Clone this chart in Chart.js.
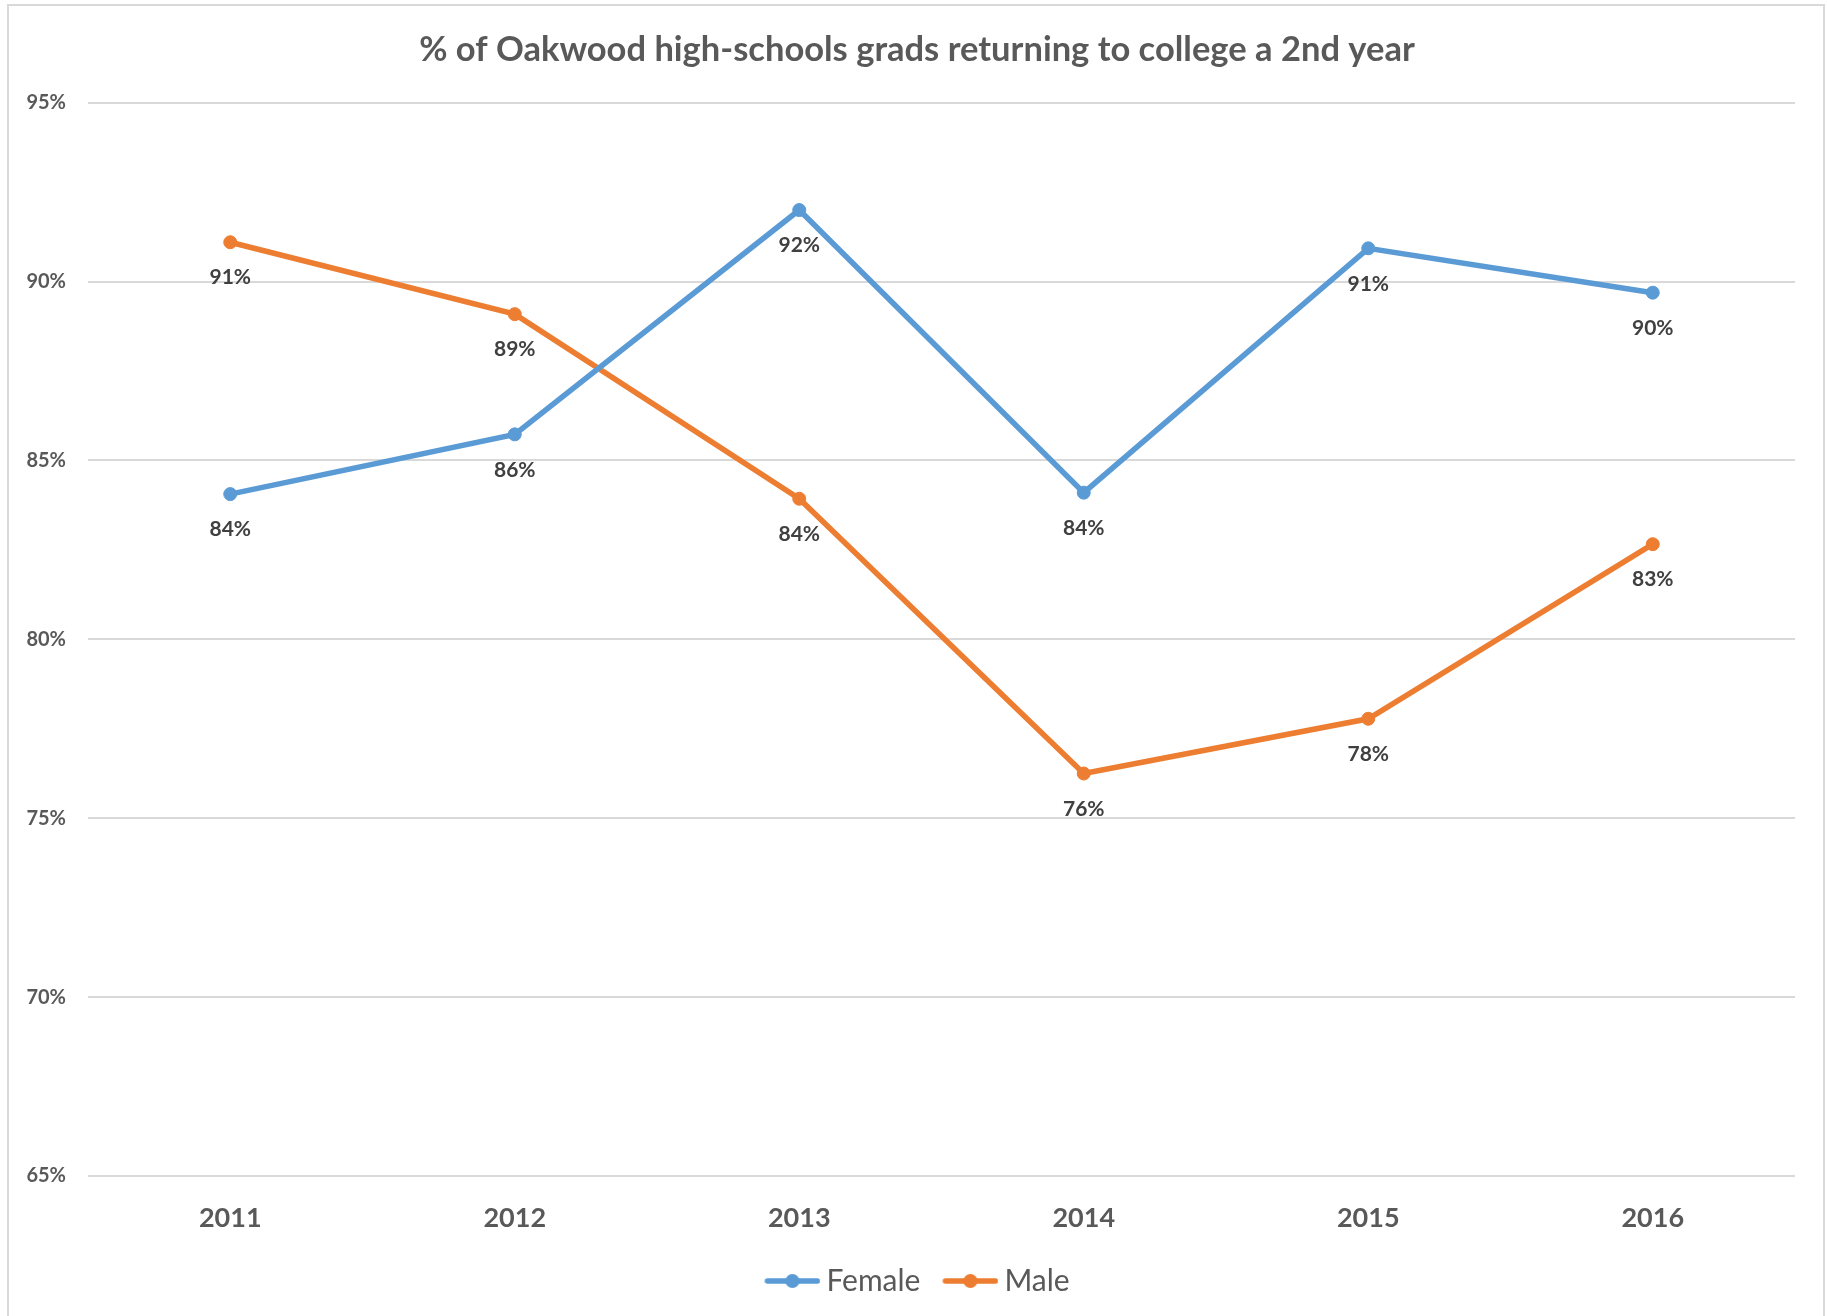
<!DOCTYPE html>
<html>
<head>
<meta charset="utf-8">
<script src="https://cdn.jsdelivr.net/npm/chart.js@4.4.0/dist/chart.umd.min.js"></script>
<style>
  html, body { margin: 0; padding: 0; background: #fff; overflow: hidden; }
  #frame { position: absolute; left: 7px; top: 4px; width: 1818px; height: 1400px; border: 2px solid #d9d9d9; box-sizing: border-box; }
  #wrap { position: absolute; left: 0; top: 0; width: 1827px; height: 1316px; }
</style>
</head>
<body>
<div id="frame"></div>
<div id="wrap"><canvas id="chart"></canvas></div>
<script>
const years = ['2011', '2012', '2013', '2014', '2015', '2016'];
const femaleValues = [84.06, 85.73, 92.0, 84.1, 90.93, 89.69];
const maleValues = [91.1, 89.09, 83.93, 76.25, 77.78, 82.66];
const yMin = 65;
const yMax = 95;
const yStep = 5;

const blue = '#5b9bd5';
const orange = '#ed7d31';
const fontName = 'Lato, "Open Sans", sans-serif';


// legend marker: a short line with a dot, drawn to the right side of a wider image
function legendMarker(color){
    const c = document.createElement('canvas');
    c.width = 65;
    c.height = 16;
    const g = c.getContext('2d');
    g.strokeStyle = color;
    g.lineWidth = 5.5;
    g.lineCap = 'round';
    g.beginPath();
    g.moveTo(12, 8);
    g.lineTo(62, 8);
    g.stroke();
    g.fillStyle = color;
    g.beginPath();
    g.arc(37, 8, 7, 0, Math.PI * 2);
    g.fill();
    return c;
}


// value labels under every point
const pointLabels = {
    id: 'pointLabels',
    afterDatasetsDraw(chart){
        const ctx = chart.ctx;
        ctx.save();
        ctx.font = 'bold 21px ' + fontName;
        ctx.fillStyle = '#404040';
        ctx.textAlign = 'center';
        ctx.textBaseline = 'middle';
        chart.data.datasets.forEach((ds, i) => {
            chart.getDatasetMeta(i).data.forEach((pt, j) => {
                ctx.fillText(Math.round(ds.data[j]) + '%', pt.x, pt.y + 35.5);
            });
        });
        ctx.restore();
    }
};


const ctx = document.getElementById('chart');

new Chart(ctx, {
    type: 'line',
    data: {
        labels: years,
        datasets: [{
            label: 'Female',
            data: femaleValues,
            yAxisID: 'y',
            borderColor: blue,
            backgroundColor: blue,
            borderWidth: 5.5,
            pointRadius: 6.5,
            pointBorderWidth: 1,
            tension: 0,
            fill: false
        }, {
            label: 'Male',
            data: maleValues,
            yAxisID: 'y',
            borderColor: orange,
            backgroundColor: orange,
            borderWidth: 5.5,
            pointRadius: 6.5,
            pointBorderWidth: 1,
            tension: 0,
            fill: false
        }]
    },
    options: {
        responsive: true,
        maintainAspectRatio: false,
        animation: false,
        devicePixelRatio: 1,
        layout: {
            padding: { left: 20, right: 13, top: 0, bottom: 10 }
        },
        scales: {
            x: {
                offset: true,
                grid: { display: false },
                border: { display: false },
                ticks: {
                    color: '#595959',
                    padding: 18,
                    font: { family: fontName, size: 27, weight: 'bold' }
                },
                afterFit(scale){ scale.height = 68; }
            },
            y: {
                min: yMin,
                max: yMax,
                grid: { color: '#d9d9d9', lineWidth: 2, drawTicks: false },
                border: { display: false },
                ticks: {
                    stepSize: yStep,
                    color: '#595959',
                    padding: 22,
                    font: { family: fontName, size: 20, weight: 'bold' },
                    callback: v => v + '%'
                },
                afterFit(scale){ scale.width = 68; }
            },
            // empty right-hand spacer so the title and legend sit centred on the frame
            spacer: {
                type: 'linear',
                position: 'right',
                grid: { display: false },
                border: { display: false },
                ticks: { display: false },
                afterFit(scale){ scale.width = 19; }
            }
        },
        plugins: {
            title: {
                display: true,
                text: '% of Oakwood high-schools grads returning to college a 2nd year',
                color: '#595959',
                font: { family: fontName, size: 34.5, weight: 'bold', lineHeight: 1.2 },
                padding: { top: 28.8, bottom: 32.5 }
            },
            legend: {
                display: true,
                position: 'bottom',
                labels: {
                    color: '#595959',
                    font: { family: fontName, size: 30 },
                    usePointStyle: true,
                    pointStyleWidth: 47,
                    padding: 22,
                    generateLabels(chart){
                        return chart.data.datasets.map((ds, i) => ({
                            text: ds.label,
                            pointStyle: legendMarker(ds.borderColor),
                            fontColor: '#595959',
                            strokeStyle: ds.borderColor,
                            fillStyle: ds.borderColor,
                            lineWidth: 0,
                            datasetIndex: i,
                            hidden: false
                        }));
                    }
                }
            },
            tooltip: { enabled: false }
        }
    },
    plugins: [pointLabels]
});
</script>
</body>
</html>
